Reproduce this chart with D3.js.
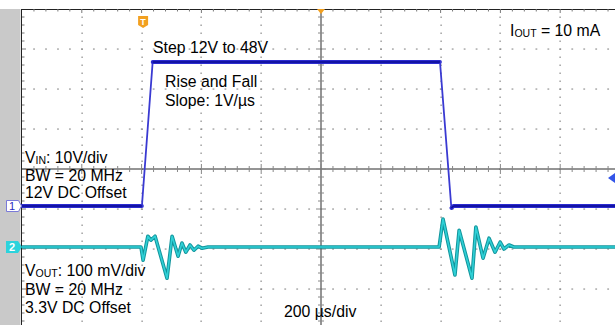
<!DOCTYPE html>
<html>
<head>
<meta charset="utf-8">
<script src="https://cdn.jsdelivr.net/npm/d3@7"></script>
<style>
  body { margin: 0; background: #fff; }
  svg { display: block; }
  text { font-family: Arial, "Liberation Sans", sans-serif; fill: #000; }
</style>
</head>
<body>
<svg id="scope" width="615" height="325"></svg>
<script>
// ---- acquisition settings ----
const timeSpanUs = [0, 2000];          // 10 divisions at 200 µs/div
const usPerDiv = 200;
const hDivs = 10, vDivs = 8;

// channel 1: VIN, 10 V/div, 12 V offset
const vinPerDiv = 10, vinOffset = 12, vinRefDiv = -0.925;
// channel 2: VOUT, 100 mV/div, 3.3 V offset
const voutPerDiv = 0.1, voutOffset = 3.3, voutRefDiv = -1.95;

// trigger time (µs) and trigger level on channel 1 (V)
const trigTime = [405];
const trigLevel = [19];

// VIN step 12 V -> 48 V -> 12 V
const vinTime  = [0, 401, 437, 1398, 1436, 1444, 2000];
const vinVolts = [12, 12, 48, 48, 11.5, 12, 12];

// VOUT response to the line steps
const voutTime  = [0, 398, 405, 421, 431, 445, 485, 502, 522, 535, 548, 562, 575, 589, 602, 622,
                   1395, 1408, 1448, 1462, 1505, 1518, 1542, 1562, 1582, 1599, 1612, 1629, 1645, 2000];
const voutVolts = [3.300, 3.300, 3.267, 3.327, 3.317, 3.327, 3.222, 3.327, 3.277, 3.310, 3.287, 3.305, 3.292, 3.302, 3.297, 3.300,
                   3.300, 3.370, 3.230, 3.342, 3.222, 3.350, 3.272, 3.322, 3.287, 3.312, 3.295, 3.305, 3.300, 3.300];

// ---- geometry ----
const svg = d3.select("#scope");
const X0 = 22, X1 = 620, Y0 = 9, Y1 = 329;
const divW = (X1 - X0) / hDivs, divH = (Y1 - Y0) / vDivs;
const xMid = (X0 + X1) / 2, yMid = (Y0 + Y1) / 2;

const x = d3.scaleLinear().domain(timeSpanUs).range([X0, X1]);
const yVin = d3.scaleLinear()
  .domain([vinOffset + (-vDivs / 2 - vinRefDiv) * vinPerDiv, vinOffset + (vDivs / 2 - vinRefDiv) * vinPerDiv])
  .range([Y1, Y0]);
const yVout = d3.scaleLinear()
  .domain([voutOffset + (-vDivs / 2 - voutRefDiv) * voutPerDiv, voutOffset + (vDivs / 2 - voutRefDiv) * voutPerDiv])
  .range([Y1, Y0]);

// left side bar
svg.append("rect").attr("x", 0).attr("y", Y0).attr("width", 20.5).attr("height", 325 - Y0).attr("fill", "#c9c9c9");

// ---- graticule ----
const grid = svg.append("g");
const timeTicks = d3.range(timeSpanUs[0], timeSpanUs[1] + 1, usPerDiv);
const rowTicks = d3.range(0, vDivs + 1);

// dotted vertical lines
timeTicks.forEach((t, i) => {
  if (i === 0 || i === hDivs / 2 || i === hDivs) return;
  const gx = Math.round(x(t));
  d3.range(1, vDivs * 5).forEach(k => {
    grid.append("rect").attr("x", gx - 0.5).attr("y", Y0 + k * divH / 5 - 0.5)
      .attr("width", 1.2).attr("height", 1.5).attr("fill", "#8a8a8a");
  });
});
// dotted horizontal lines
rowTicks.forEach(i => {
  if (i === 0 || i === vDivs / 2 || i === vDivs) return;
  const gy = Math.round(Y0 + i * divH);
  d3.range(1, hDivs * 5).forEach(k => {
    grid.append("rect").attr("x", X0 + k * divW / 5 - 0.8).attr("y", gy - 0.5)
      .attr("width", 1.8).attr("height", 1.1).attr("fill", "#8a8a8a");
  });
});

// centre axes with minor / major ticks
grid.append("line").attr("x1", X0).attr("x2", X1).attr("y1", yMid).attr("y2", yMid)
  .attr("stroke", "#2a2a2a").attr("stroke-width", 1);
grid.append("line").attr("x1", xMid).attr("x2", xMid).attr("y1", Y0).attr("y2", Y1)
  .attr("stroke", "#2a2a2a").attr("stroke-width", 1);
d3.range(1, hDivs * 5).forEach(k => {
  const tx = X0 + k * divW / 5, major = k % 5 === 0;
  grid.append("line").attr("x1", tx).attr("x2", tx)
    .attr("y1", yMid - (major ? 5 : 3)).attr("y2", yMid + (major ? 5 : 3))
    .attr("stroke", "#888").attr("stroke-width", 1);
});
d3.range(1, vDivs * 5).forEach(k => {
  const ty = Y0 + k * divH / 5, major = k % 5 === 0;
  grid.append("line").attr("x1", xMid - (major ? 5 : 3)).attr("x2", xMid + (major ? 5 : 3))
    .attr("y1", ty).attr("y2", ty)
    .attr("stroke", "#888").attr("stroke-width", 1);
});

// frame (top and left edges visible) with tick marks
grid.append("line").attr("x1", X0).attr("x2", X1).attr("y1", Y0 + 0.5).attr("y2", Y0 + 0.5)
  .attr("stroke", "#222").attr("stroke-width", 1);
grid.append("line").attr("x1", X0 - 0.5).attr("x2", X0 - 0.5).attr("y1", Y0).attr("y2", 325)
  .attr("stroke", "#222").attr("stroke-width", 1);
d3.range(1, hDivs * 5).forEach(k => {
  const tx = X0 + k * divW / 5;
  grid.append("line").attr("x1", tx).attr("x2", tx).attr("y1", Y0).attr("y2", Y0 + (k % 5 === 0 ? 4 : 2.5))
    .attr("stroke", "#777").attr("stroke-width", 1);
});
d3.range(1, vDivs * 5).forEach(k => {
  const ty = Y0 + k * divH / 5;
  grid.append("line").attr("x1", X0).attr("x2", X0 + (k % 5 === 0 ? 4 : 2.5)).attr("y1", ty).attr("y2", ty)
    .attr("stroke", "#777").attr("stroke-width", 1);
});

// ---- traces ----
const voutLine = d3.line().x((d, i) => x(voutTime[i])).y(d => yVout(d));

svg.append("path").datum(voutVolts).attr("d", voutLine).attr("fill", "none")
  .attr("stroke", "#12959c").attr("stroke-width", 3.6).attr("stroke-linejoin", "round");
svg.append("path").datum(voutVolts).attr("d", voutLine).attr("fill", "none")
  .attr("stroke", "#2fd0d6").attr("stroke-width", 1.6).attr("stroke-linejoin", "round");

// VIN: fast edges are sampled sparsely and show as a thin line,
// settled levels show as a wide band of samples.
const vinSegs = d3.range(vinVolts.length - 1).map(i => ({
  p: [[x(vinTime[i]), yVin(vinVolts[i])], [x(vinTime[i + 1]), yVin(vinVolts[i + 1])]],
  edge: Math.abs(vinVolts[i + 1] - vinVolts[i]) > 5
}));
const seg = d3.line();
svg.append("g").selectAll("path").data(vinSegs).join("path")
  .attr("d", d => seg(d.p)).attr("fill", "none")
  .attr("stroke", d => d.edge ? "#3a3ad2" : "#2b2bd0")
  .attr("stroke-width", d => d.edge ? 1.8 : 3.8).attr("stroke-linecap", "round");
svg.append("g").selectAll("path").data(vinSegs.filter(d => !d.edge)).join("path")
  .attr("d", d => seg(d.p)).attr("fill", "none")
  .attr("stroke", "#0c0c96").attr("stroke-width", 1.4);

// ---- markers ----
// trigger position
const tx0 = x(trigTime[0]);
svg.append("path")
  .attr("d", `M${tx0 - 5},16 h10 v9 l-5,3 l-5,-3 Z`)
  .attr("fill", "#f2a020");
svg.append("text").attr("x", tx0).attr("y", 24.5).attr("text-anchor", "middle")
  .style("font-size", "9px").style("font-weight", "bold").style("fill", "#fff").text("T");
// horizontal centre marker
svg.append("path").attr("d", `M${xMid - 4},${Y0} h8 l-4,5 Z`).attr("fill", "#f2a020");
// trigger level
const tl = yVin(trigLevel[0]);
svg.append("path").attr("d", `M608,${tl} l7,-5 v10 Z`).attr("fill", "#3355e8");

// channel reference markers
const c1 = yVin(vinOffset);
svg.append("path").attr("d", `M6.5,${c1 - 5.5} h12 l3,5.5 l-3,5.5 h-12 Z`)
  .attr("fill", "#fff").attr("stroke", "#7a7ad8").attr("stroke-width", 1);
svg.append("text").attr("x", 12).attr("y", c1 + 4).attr("text-anchor", "middle")
  .style("font-size", "11px").style("fill", "#2a2ac0").text("1");
const c2 = yVout(voutOffset);
svg.append("path").attr("d", `M6,${c2 - 6} h12 l4,6 l-4,6 h-12 Z`).attr("fill", "#2cd3dc");
svg.append("text").attr("x", 12).attr("y", c2 + 4).attr("text-anchor", "middle")
  .style("font-size", "11px").style("font-weight", "bold").style("fill", "#fff").text("2");

// ---- annotations ----
const notes = svg.append("g").style("font-size", "15.8px");
function note(xp, yp, main, sub, rest) {
  const t = notes.append("text").attr("x", xp).attr("y", yp);
  t.append("tspan").text(main);
  if (sub) {
    t.append("tspan").style("font-size", "10.5px").attr("dy", 1).text(sub);
    t.append("tspan").attr("dy", -1).text(rest);
  }
  return t;
}
note(153, 53, "Step 12V to 48V");
note(165, 87, "Rise and Fall");
note(165, 106, "Slope: 1V/µs");
note(510, 36, "I", "OUT", " = 10 mA");
note(25, 163, "V", "IN", ": 10V/div");
note(25, 181, "BW = 20 MHz");
note(25, 198, "12V DC Offset");
note(25, 276, "V", "OUT", ": 100 mV/div");
note(25, 295, "BW = 20 MHz");
note(25, 313, "3.3V DC Offset");
note(284, 317, "200 µs/div");
</script>
</body>
</html>
